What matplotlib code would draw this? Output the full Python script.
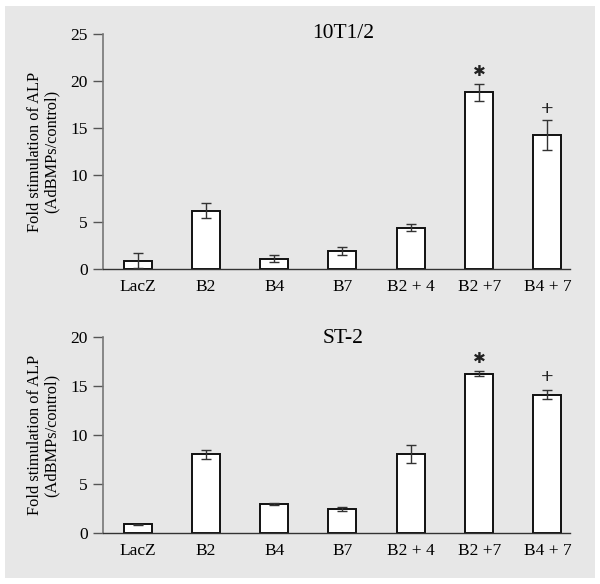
import matplotlib
matplotlib.use('Agg')
import matplotlib.pyplot as plt
import numpy as np
from matplotlib.patches import Rectangle

plt.rc('font', family=['Liberation Serif', 'DejaVu Serif'])

groups = ['LacZ', 'B2', 'B4', 'B7', 'B2 + 4', 'B2 +7', 'B4 + 7']

# 10T1/2 cells
top_vals = [0.9, 6.2, 1.1, 1.9, 4.4, 18.8, 14.3]
top_err = [0.75, 0.8, 0.35, 0.4, 0.4, 0.9, 1.6]

# ST-2 cells
bot_vals = [0.9, 8.05, 3.0, 2.45, 8.1, 16.3, 14.15]
bot_err = [0.1, 0.5, 0.1, 0.2, 0.9, 0.25, 0.45]

# significance marks and their heights
marks = ['', '', '', '', '', '*', '+']
top_mark_y = [None, None, None, None, None, 21.0, 16.9]
bot_mark_y = [None, None, None, None, None, 17.8, 15.8]

fig = plt.figure(figsize=(6.0, 5.84), dpi=100)
fig.patches.append(Rectangle((5 / 600, 6 / 584), 590 / 600, 572 / 584,
                             transform=fig.transFigure, facecolor='#e7e7e7',
                             edgecolor='none', zorder=-10))


def draw_panel(ax, vals, err, ymax, title, mark_y, title_y):
    x = np.arange(len(groups))
    ax.bar(x, vals, width=0.41, color='white', edgecolor='#111111', linewidth=1.4, zorder=2)
    ax.errorbar(x, vals, yerr=err, fmt='none', ecolor='#333333', elinewidth=1.0,
                capsize=3.8, capthick=1.0, zorder=3)
    for i, m in enumerate(marks):
        if m == '*':
            ax.annotate('\u2731', (x[i], mark_y[i]), ha='center', va='center', fontsize=11,
                        family='DejaVu Sans', color='#222222')
        elif m == '+':
            ax.annotate('+', (x[i], mark_y[i]), ha='center', va='center', fontsize=16,
                        fontweight='bold', color='#222222')
    ax.set_xlim(-0.505, 6.33)
    ax.set_ylim(0, ymax)
    ax.set_yticks(np.arange(0, ymax + 1, 5))
    ax.set_xticks(x)
    ax.set_xticklabels(groups)
    ax.set_facecolor('none')
    for s in ['top', 'right']:
        ax.spines[s].set_visible(False)
    ax.spines['left'].set_color('#777777')
    ax.spines['left'].set_linewidth(1.2)
    ax.spines['bottom'].set_color('#333333')
    ax.spines['bottom'].set_linewidth(1.0)
    ax.tick_params(axis='y', length=7, width=1.0, color='#555555', labelsize=12.5, pad=4)
    ax.tick_params(axis='x', length=0, labelsize=12.5, pad=7)
    ax.set_ylabel('Fold stimulation of ALP\n(AdBMPs/control)', fontsize=11.8, linespacing=1.0,
                  labelpad=8)
    ax.set_title(title, fontsize=15.5, x=0.515, y=title_y, va='center', pad=0)


ax1 = fig.add_axes([0.1717, 0.5394, 0.7783, 0.4024])
draw_panel(ax1, top_vals, top_err, 25, '10T1/2', top_mark_y, 1.0)

ax2 = fig.add_axes([0.1717, 0.0868, 0.7783, 0.3356])
draw_panel(ax2, bot_vals, bot_err, 20, 'ST-2', bot_mark_y, 0.995)

fig.savefig('out.png', dpi=100)
